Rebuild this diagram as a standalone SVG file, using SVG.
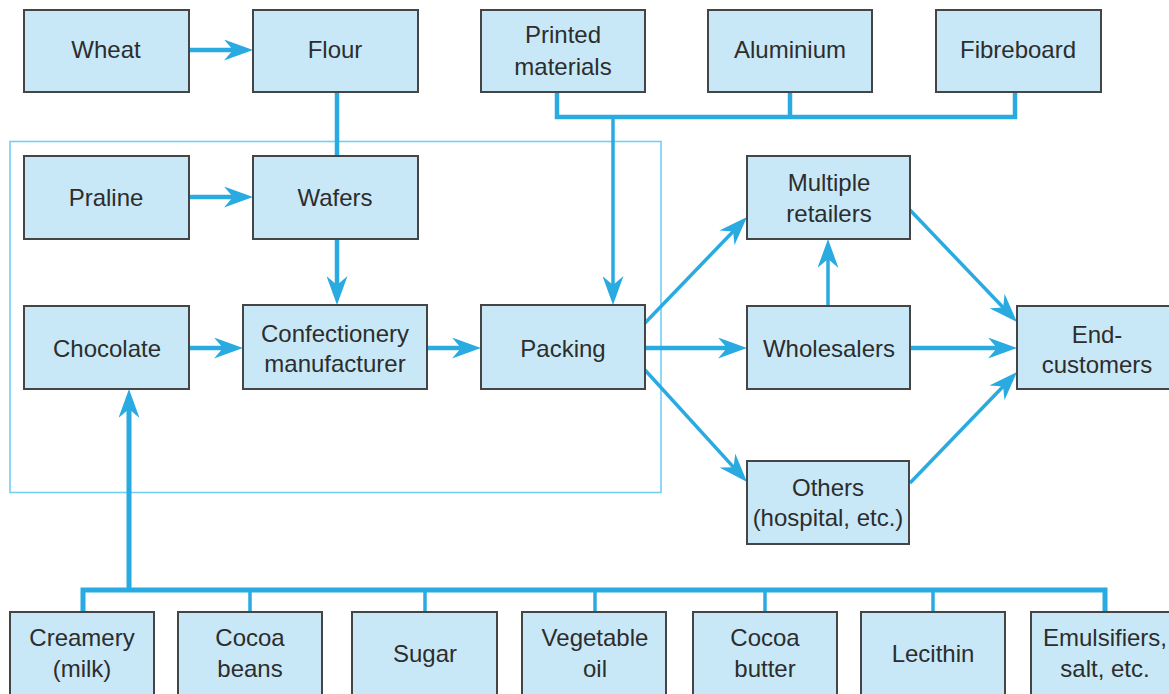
<svg xmlns="http://www.w3.org/2000/svg" width="1169" height="694" viewBox="0 0 1169 694">
  <style>
    .box { fill: #c8e8f7; stroke: #454545; stroke-width: 2; }
    .lbl { font-family: "Liberation Sans", Arial, sans-serif; font-size: 24px; fill: #2d2d2d; text-anchor: middle; }
    .frame { fill: none; stroke: #72cff2; stroke-width: 1.6; }
    .link { fill: none; stroke: #29abe2; stroke-linejoin: miter; stroke-linecap: butt; }
    .thick { stroke-width: 5; }
    .mid { stroke-width: 4.5; }
    .thin { stroke-width: 3.5; }
    .arr { marker-end: url(#head); }
  </style>
  <defs>
    <marker id="head" markerUnits="userSpaceOnUse" viewBox="0 0 29 21" markerWidth="29" markerHeight="21" refX="19" refY="10.5" orient="auto">
      <path d="M0,0 L29,10.5 L0,21 L9,10.5 Z" fill="#29abe2"/>
    </marker>
  </defs>
  <rect width="1169" height="694" fill="#ffffff"/>

  <!-- outline of the manufacturing stage -->
  <rect class="frame" x="10" y="141.5" width="651" height="351"/>

  <!-- connectors -->
  <g id="connectors">
    <path class="link mid arr" d="M189,50 H243"/>
    <path class="link mid arr" d="M189,197 H243"/>
    <path class="link mid" d="M337,92 V156"/>
    <path class="link mid arr" d="M337,239 V295"/>
    <path class="link mid arr" d="M189,348 H233"/>
    <path class="link mid arr" d="M427,348 H471"/>
    <path class="link mid" d="M557,92 V117 H1015 V92"/>
    <path class="link mid" d="M790,92 V117"/>
    <path class="link thin arr" d="M613,117 V295"/>
    <path class="link thin arr" d="M645,323 L740.1,224.2"/>
    <path class="link mid arr" d="M645,348 H737"/>
    <path class="link thin arr" d="M645,370 L740.3,474.6"/>
    <path class="link thin arr" d="M828,307 V249"/>
    <path class="link thin arr" d="M910,210 L1010.1,314.8"/>
    <path class="link mid arr" d="M910,348 H1007"/>
    <path class="link thin arr" d="M910,483 L1010.1,379.2"/>
    <path class="link thick arr" d="M129,590 V399"/>
    <path class="link thick" d="M83,612 V590 H1105 V612"/>
    <path class="link thin" d="M250,590 V612"/>
    <path class="link thin" d="M425,590 V612"/>
    <path class="link thin" d="M595,590 V612"/>
    <path class="link thin" d="M765,590 V612"/>
    <path class="link thin" d="M933,590 V612"/>
  </g>

  <!-- raw materials feeding the wafers -->
  <g id="wheat"><rect class="box" x="24" y="10" width="165" height="82"/><text class="lbl" x="106" y="58">Wheat</text></g>
  <g id="flour"><rect class="box" x="253" y="10" width="165" height="82"/><text class="lbl" x="335" y="58">Flour</text></g>

  <!-- packaging inputs -->
  <g id="printed"><rect class="box" x="481" y="10" width="164" height="82"/><text class="lbl" x="563" y="43">Printed</text><text class="lbl" x="563" y="75">materials</text></g>
  <g id="aluminium"><rect class="box" x="708" y="10" width="164" height="82"/><text class="lbl" x="790" y="58">Aluminium</text></g>
  <g id="fibreboard"><rect class="box" x="936" y="10" width="165" height="82"/><text class="lbl" x="1018" y="58">Fibreboard</text></g>

  <!-- manufacturing stage -->
  <g id="praline"><rect class="box" x="24" y="156" width="165" height="83"/><text class="lbl" x="106" y="206">Praline</text></g>
  <g id="wafers"><rect class="box" x="253" y="156" width="165" height="83"/><text class="lbl" x="335" y="206">Wafers</text></g>
  <g id="chocolate"><rect class="box" x="24" y="306" width="165" height="83"/><text class="lbl" x="107" y="357">Chocolate</text></g>
  <g id="manufacturer"><rect class="box" x="243" y="305" width="184" height="84"/><text class="lbl" x="335" y="342">Confectionery</text><text class="lbl" x="335" y="372">manufacturer</text></g>
  <g id="packing"><rect class="box" x="481" y="305" width="164" height="84"/><text class="lbl" x="563" y="357">Packing</text></g>

  <!-- distribution -->
  <g id="retailers"><rect class="box" x="747" y="156" width="163" height="83"/><text class="lbl" x="829" y="191">Multiple</text><text class="lbl" x="829" y="222">retailers</text></g>
  <g id="wholesalers"><rect class="box" x="747" y="306" width="163" height="83"/><text class="lbl" x="829" y="357">Wholesalers</text></g>
  <g id="others"><rect class="box" x="747" y="461" width="162" height="83"/><text class="lbl" x="828" y="496">Others</text><text class="lbl" x="828" y="526">(hospital, etc.)</text></g>
  <g id="endcustomers"><rect class="box" x="1017" y="306" width="162" height="83"/><text class="lbl" x="1097" y="343">End-</text><text class="lbl" x="1097" y="373">customers</text></g>

  <!-- chocolate ingredients -->
  <g id="creamery"><rect class="box" x="10" y="612" width="144" height="90"/><text class="lbl" x="82" y="646">Creamery</text><text class="lbl" x="82" y="677">(milk)</text></g>
  <g id="cocoabeans"><rect class="box" x="178" y="612" width="144" height="90"/><text class="lbl" x="250" y="646">Cocoa</text><text class="lbl" x="250" y="677">beans</text></g>
  <g id="sugar"><rect class="box" x="352" y="612" width="145" height="90"/><text class="lbl" x="425" y="662">Sugar</text></g>
  <g id="vegoil"><rect class="box" x="522" y="612" width="144" height="90"/><text class="lbl" x="595" y="646">Vegetable</text><text class="lbl" x="595" y="677">oil</text></g>
  <g id="cocoabutter"><rect class="box" x="693" y="612" width="144" height="90"/><text class="lbl" x="765" y="646">Cocoa</text><text class="lbl" x="765" y="677">butter</text></g>
  <g id="lecithin"><rect class="box" x="861" y="612" width="144" height="90"/><text class="lbl" x="933" y="662">Lecithin</text></g>
  <g id="emulsifiers"><rect class="box" x="1031" y="612" width="150" height="90"/><text class="lbl" x="1105" y="646">Emulsifiers,</text><text class="lbl" x="1105" y="677">salt, etc.</text></g>
</svg>
